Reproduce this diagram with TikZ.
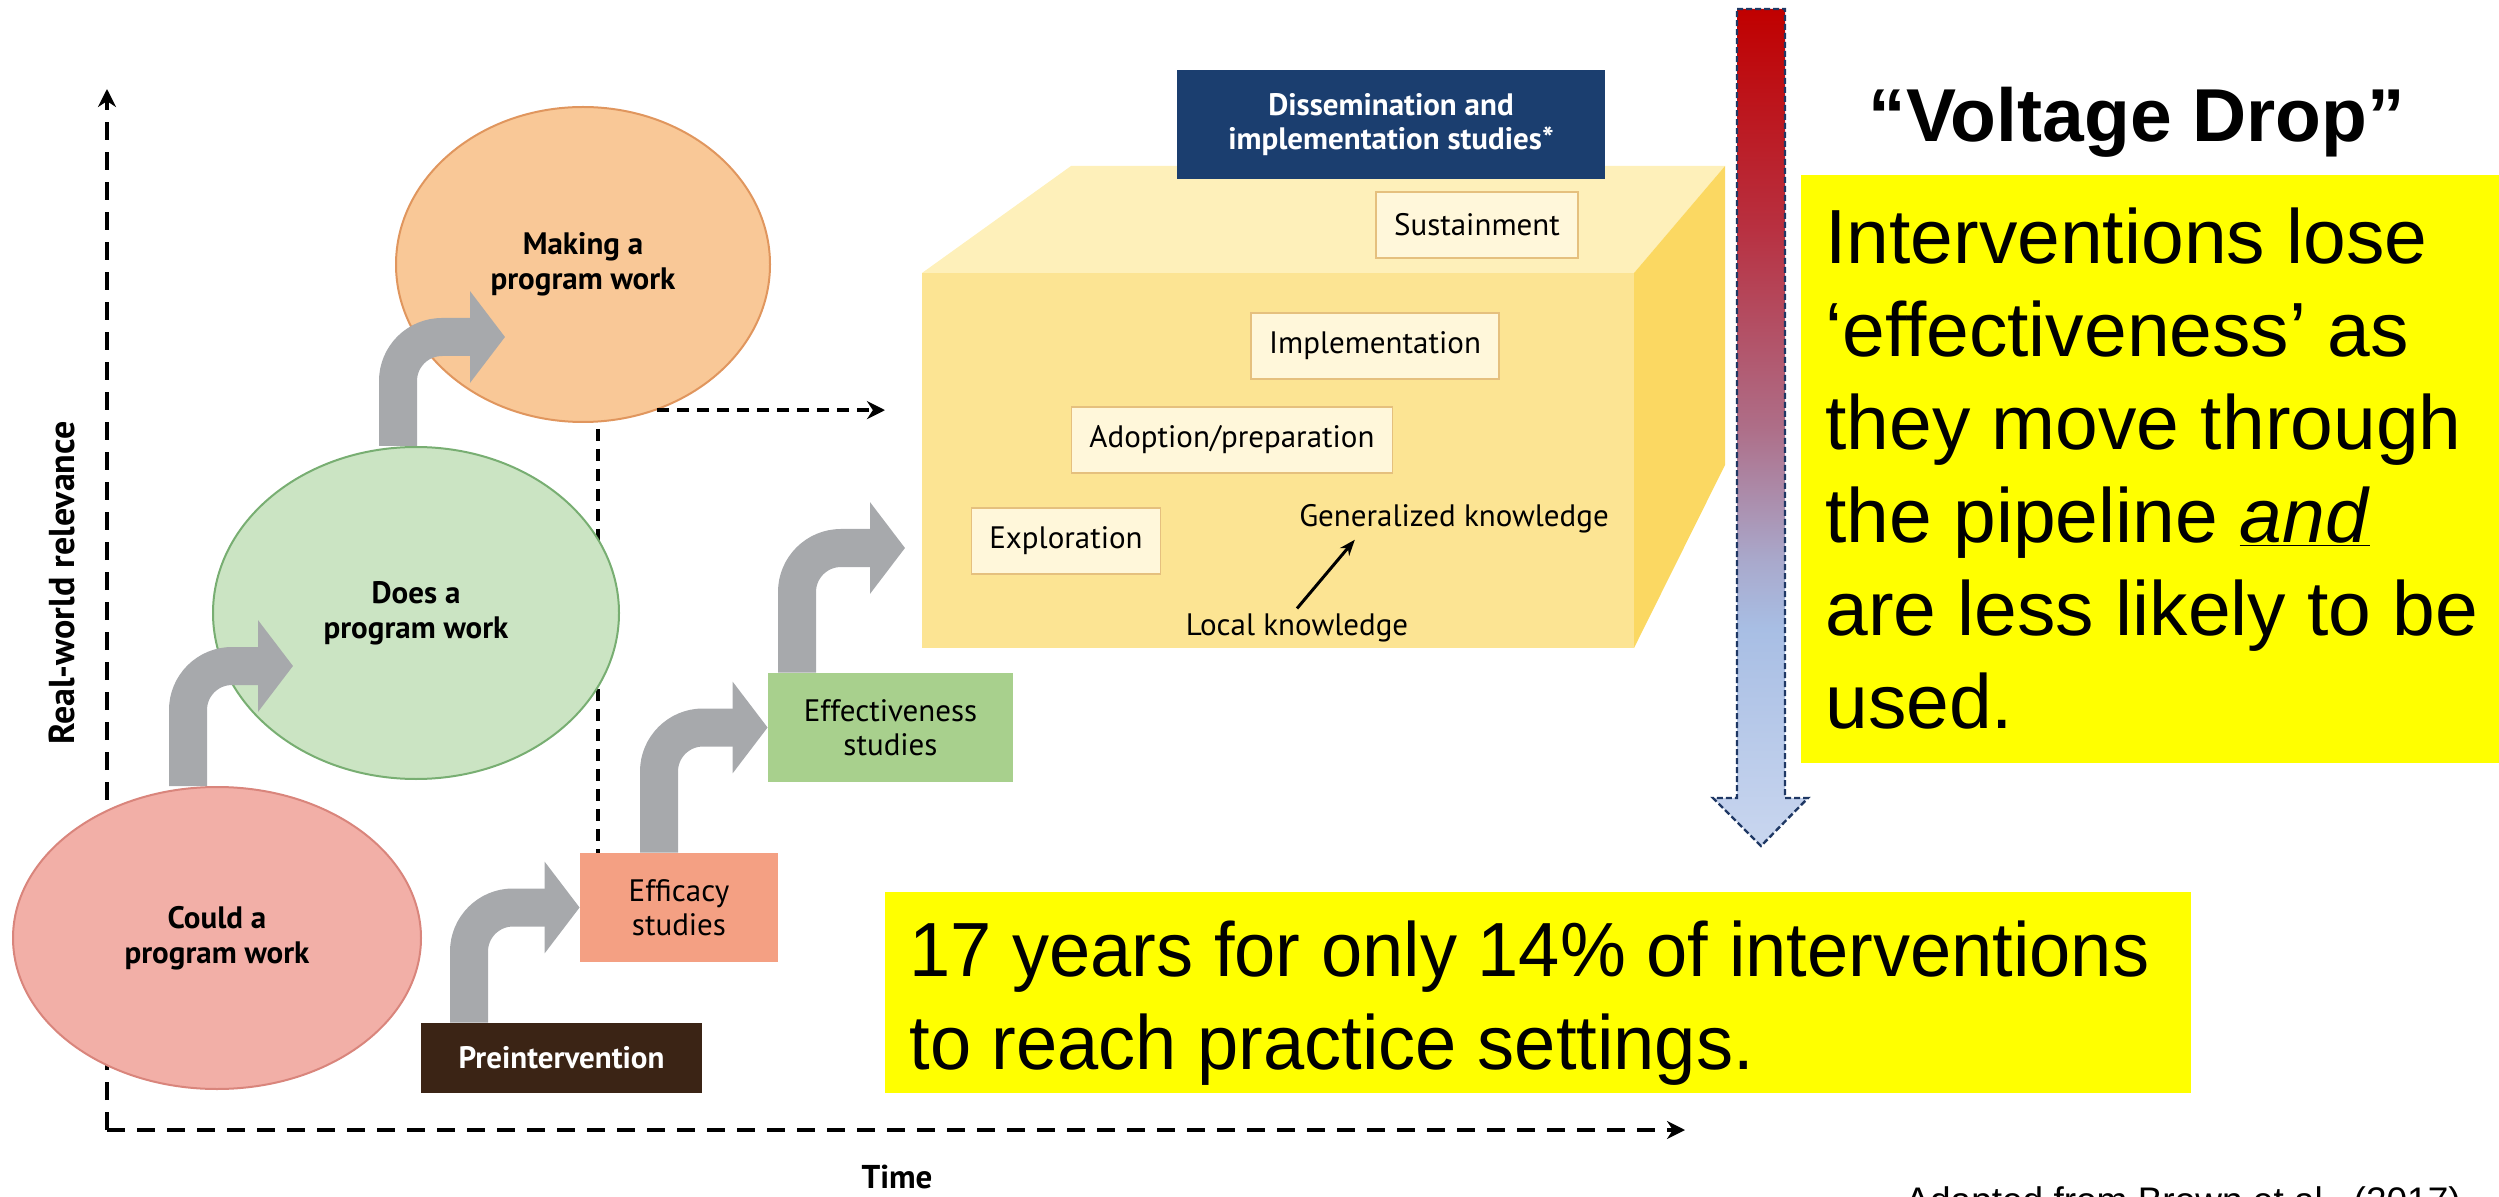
\documentclass[tikz,border=0pt]{standalone}
\usepackage{fontspec}
\setmainfont{Liberation Sans}
\newfontfamily\figfont{PT Sans}
\newfontfamily\narrowfont[FakeStretch=0.965]{Liberation Sans}
\usetikzlibrary{arrows.meta,shapes.geometric}

\definecolor{pinkfill}{HTML}{F2AFA7}
\definecolor{pinkline}{HTML}{D9857C}
\definecolor{greenfill}{HTML}{CBE4C3}
\definecolor{greenline}{HTML}{78AE72}
\definecolor{orangefill}{HTML}{F9C897}
\definecolor{orangeline}{HTML}{E0965E}
\definecolor{bentgray}{HTML}{A7A9AC}
\definecolor{efficacyfill}{HTML}{F4A083}
\definecolor{effectfill}{HTML}{A8D08D}
\definecolor{preinfill}{HTML}{3B2415}
\definecolor{dissemfill}{HTML}{1B3E6F}
\definecolor{boxfront}{HTML}{FCE493}
\definecolor{boxtop}{HTML}{FEF0BA}
\definecolor{boxside}{HTML}{FBD862}
\definecolor{stagefill}{HTML}{FFF7DA}
\definecolor{stageline}{HTML}{E5C07E}
\definecolor{dropred}{HTML}{C00000}
\definecolor{dropwine}{HTML}{B83040}
\definecolor{dropmauve}{HTML}{AE6E88}
\definecolor{droplilac}{HTML}{A9A9CC}
\definecolor{dropblue}{HTML}{A8BEE4}
\definecolor{droppale}{HTML}{C9D6EF}
\definecolor{dropline}{HTML}{1F3864}
\definecolor{slideyellow}{HTML}{FFFF00}

\pgfdeclareverticalshading{drop}{100bp}{color(0bp)=(droppale); color(25bp)=(droppale); color(38bp)=(dropblue); color(42bp)=(droplilac); color(50bp)=(dropmauve); color(62bp)=(dropwine); color(75bp)=(dropred); color(100bp)=(dropred)}

\begin{document}
\begin{tikzpicture}[x=0.5pt,y=-0.5pt]
    \tikzstyle{blob}=[ellipse,draw,line width=1pt,inner sep=0pt,align=center,font=\figfont\bfseries\fontsize{15.5}{17.5}\selectfont]
    \tikzstyle{study}=[rectangle,inner sep=0pt,align=center,font=\figfont\fontsize{15.5}{17}\selectfont]
    \tikzstyle{stage}=[rectangle,draw=stageline,fill=stagefill,line width=0.8pt,minimum height=33pt,inner xsep=9pt,font=\figfont\fontsize{15.5}{17}\selectfont]
    \tikzstyle{bent}=[draw=bentgray,line width=19pt,rounded corners=22pt,-{Triangle[width=45pt,length=17.5pt]}]
    \tikzstyle{axis}=[line width=2pt,dash pattern=on 9pt off 6pt,-{Stealth[length=9pt,width=9pt]}]
    \tikzstyle{guide}=[line width=2pt,dash pattern=on 6pt off 4pt]
    \tikzstyle{slide}=[inner sep=0pt,align=left,font=\fontsize{38.4}{46.5}\selectfont]

    \useasboundingbox (0,0) rectangle (2499,1197);

    % the D&I box
    \fill[boxfront] (922,273) rectangle (1634,648);
    \fill[boxtop] (922,273) -- (1071,166) -- (1725,166) -- (1634,273) -- cycle;
    \fill[boxside] (1634,273) -- (1725,166) -- (1725,465) -- (1634,648) -- cycle;
    \node[rectangle,fill=dissemfill,text=white,minimum width=214pt,minimum height=54.5pt,align=center,
          font=\figfont\bfseries\fontsize{15.5}{17}\selectfont] (dissem) at (1391,124.5) {Dissemination and\\implementation studies*};
    \node[stage] (sustain) at (1477,225) {Sustainment};
    \node[stage] (implement) at (1375,346) {Implementation};
    \node[stage] (adopt) at (1232,440) {Adoption/preparation};
    \node[stage] (explore) at (1066,541) {Exploration};
    \node[study] (general) at (1454,519) {Generalized knowledge};
    \node[study] (local) at (1297,628) {Local knowledge};
    \draw[line width=1.5pt,-{Stealth[length=8pt,width=6pt]}] ([yshift=2.5pt]local.north) -- ([xshift=28pt,yshift=-3pt]general.south west);

    % axes
    \coordinate (origin) at (107,1130);
    \coordinate (ytop) at (107,89);
    \coordinate (xend) at (1685,1130);
    \draw[axis] (origin) -- (ytop);
    \draw[axis] (origin) -- (xend);
    \node[font=\figfont\bfseries\fontsize{18}{20}\selectfont,rotate=90] (relevance) at (62,583) {Real-world relevance};
    \node[font=\figfont\bfseries\fontsize{16.5}{18}\selectfont] (time) at (897,1177) {Time};

    \node[blob,draw=orangeline,fill=orangefill,minimum width=187pt,minimum height=157.5pt] (making) at (583,264.5) {Making a\\program work};
    \node[study,fill=efficacyfill,minimum width=99pt,minimum height=54.5pt] (efficacy) at (679,907.5) {Efficacy\\studies};
    \node[study,fill=effectfill,minimum width=122.5pt,minimum height=54.5pt] (effect) at (890.5,727.5) {Effectiveness\\studies};
    \node[study,fill=preinfill,text=white,minimum width=140.5pt,minimum height=35pt,
          font=\figfont\bfseries\fontsize{15.5}{17}\selectfont] (prein) at (561.5,1058) {Preintervention};

    \coordinate (dashend) at (885,409);
    \draw[guide,-{Stealth[length=9pt,width=9pt]}] (making.-63) -- (making.-63 -| dashend);
    \draw[guide] ([xshift=7.5pt,yshift=-3pt]making.south) -- ([xshift=7.5pt]making.south |- efficacy.north);

    \node[blob,draw=greenline,fill=greenfill,minimum width=203pt,minimum height=166pt] (does) at (416,613) {Does a\\program work};
    \node[blob,draw=pinkline,fill=pinkfill,minimum width=204pt,minimum height=151pt] (could) at (217,938) {Could a\\program work};

    % bent arrows
    \coordinate (tipA) at (293,666);
    \coordinate (tipB) at (505,337);
    \coordinate (tipE) at (905,548);
    \foreach \from/\shift/\to in {could/-14.5pt/tipA, does/-9pt/tipB, prein/-46.25pt/efficacy.west,
                                 efficacy/-10pt/effect.west, effect/-46.75pt/tipE}
        \draw[bent] ([xshift=\shift]\from.north) |- (\to);

    % voltage drop
    \shadedraw[shading=drop,draw=dropline,line width=1.2pt,dash pattern=on 3pt off 1.5pt]
        (1737,9) -- (1785,9) -- (1785,798) -- (1808,798) -- (1761,846) -- (1713,798) -- (1737,798) -- cycle;
    \node[font=\bfseries\fontsize{37.5}{40}\selectfont,anchor=base] (voltage) at (2137,142) {“Voltage Drop”};
    \node[fill=slideyellow,minimum width=349pt,minimum height=294pt,anchor=north west,inner sep=0pt] (dropbox) at (1801,175) {};
    \node[slide,anchor=north west] (droptext) at (1825,207) {Interventions lose\\‘effectiveness’ as\\they move through\\the pipeline \underline{\textit{and}}\\are less likely to be\\used.};

    \node[fill=slideyellow,minimum width=653pt,minimum height=100.5pt,anchor=north west,inner sep=0pt] (yearbox) at (885,892) {};
    \node[slide,font=\narrowfont\fontsize{38.4}{46.5}\selectfont,anchor=north west] (yeartext) at (909,920) {17 years for only 14\% of interventions\\to reach practice settings.};

    \node[inner sep=0pt,anchor=base west,font=\fontsize{18.5}{20}\selectfont] (source) at (1905,1213) {Adapted from Brown et al., (2017)};
\end{tikzpicture}
\end{document}
